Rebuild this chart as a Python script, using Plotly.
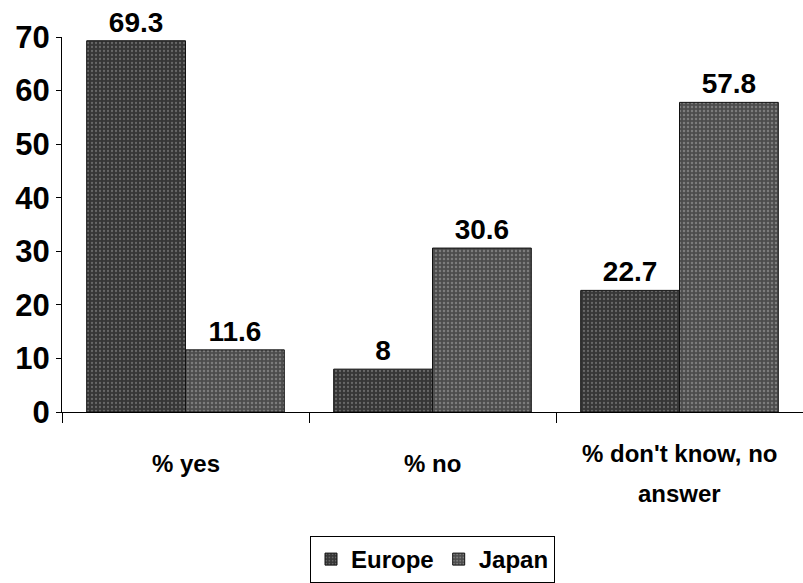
import plotly.graph_objects as go

categories = ["% yes", "% no", "% don't know, no<br>answer"]
europe = [69.3, 8, 22.7]
japan = [11.6, 30.6, 57.8]
europe_labels = ["69.3", "8", "22.7"]
japan_labels = ["11.6", "30.6", "57.8"]
y_ticks = [0, 10, 20, 30, 40, 50, 60, 70]

FONT = "Liberation Sans, Arial"

fig = go.Figure()
fig.add_trace(go.Bar(
    name="Europe", x=categories, y=europe, text=europe_labels,
    textposition="outside", cliponaxis=False,
    marker=dict(color="#363636", line=dict(color="#111111", width=1),
                pattern=dict(shape=".", fgcolor="#9a9a9a", bgcolor="#363636", size=4, solidity=0.25)),
    textfont=dict(family=FONT, size=28, color="#000000", weight="bold"),
))
fig.add_trace(go.Bar(
    name="Japan", x=categories, y=japan, text=japan_labels,
    textposition="outside", cliponaxis=False,
    marker=dict(color="#4c4c4c", line=dict(color="#111111", width=1),
                pattern=dict(shape=".", fgcolor="#ababab", bgcolor="#4c4c4c", size=4, solidity=0.3)),
    textfont=dict(family=FONT, size=28, color="#000000", weight="bold"),
))

# Category labels as annotations (multi-line label is vertically centred like the source)
annotations = []
for cat in categories:
    lines = cat.split("<br>")
    if len(lines) == 1:
        shifts = [-51]
    else:
        shifts = [-41, -81]
    for line, s in zip(lines, shifts):
        annotations.append(dict(
            x=cat, xref="x", y=0, yref="paper", yanchor="middle", yshift=s,
            text=line, showarrow=False,
            font=dict(family=FONT, size=24, color="#000000", weight="bold"),
        ))

fig.update_layout(
    width=803, height=583,
    margin=dict(l=62, r=0, t=37, b=170),
    barmode="group", bargap=0.2, bargroupgap=0,
    plot_bgcolor="white", paper_bgcolor="white",
    font=dict(family=FONT, color="#000000"),
    showlegend=True,
    annotations=annotations,
    legend=dict(orientation="h", x=0.5, xanchor="center", y=-0.33, yanchor="top",
                bordercolor="#000000", borderwidth=1,
                font=dict(family=FONT, size=24, color="#000000", weight="bold"),
                itemwidth=30),
    xaxis=dict(showline=True, linecolor="#000000", linewidth=1,
               ticks="outside", tickson="boundaries", ticklen=10, tickcolor="#000000",
               showticklabels=False, showgrid=False),
    yaxis=dict(range=[0, 70], tickvals=y_ticks, showline=True, linecolor="#000000",
               linewidth=1, ticks="outside", ticklen=5, tickcolor="#000000",
               tickfont=dict(family=FONT, size=31, color="#000000", weight="bold"),
               showgrid=False, zeroline=False),
)

fig.write_html("out.html")
